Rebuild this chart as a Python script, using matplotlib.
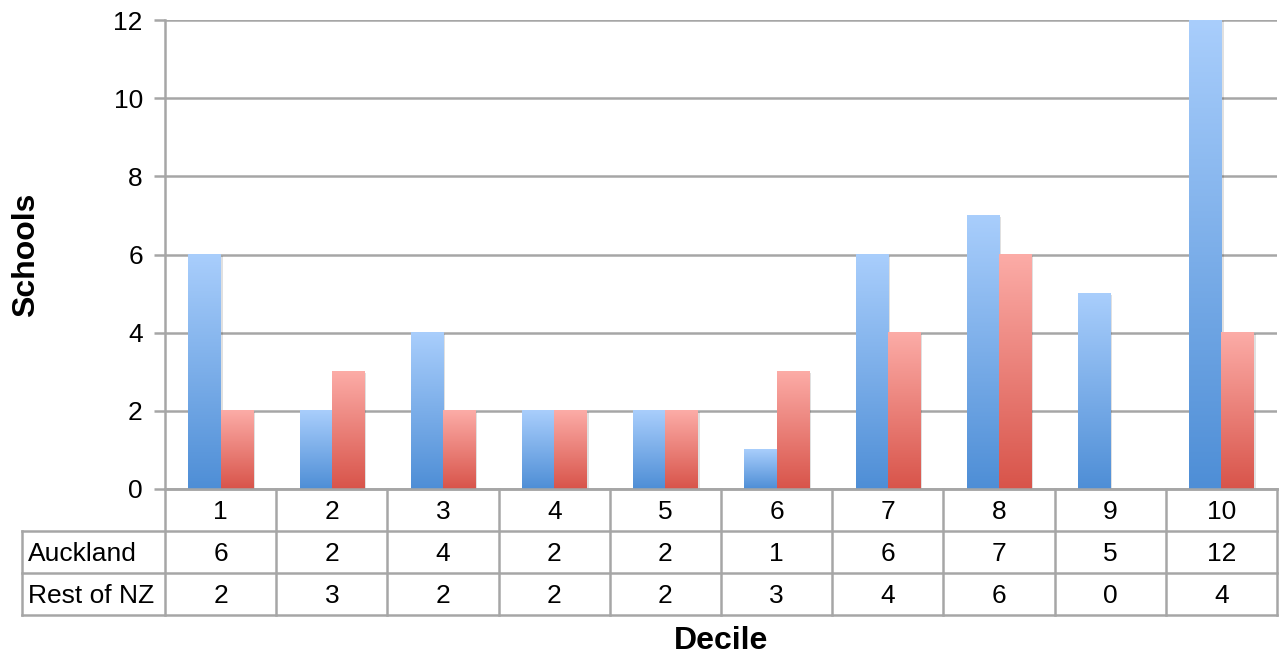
import numpy as np
import matplotlib.pyplot as plt
from matplotlib.colors import LinearSegmentedColormap

deciles = ["1", "2", "3", "4", "5", "6", "7", "8", "9", "10"]
auckland = [6, 2, 4, 2, 2, 1, 6, 7, 5, 12]
rest_nz = [2, 3, 2, 2, 2, 3, 4, 6, 0, 4]
series_names = ["Auckland", "Rest of NZ"]
yticks = [0, 2, 4, 6, 8, 10, 12]

plt.rcParams['font.family'] = ['Liberation Sans', 'DejaVu Sans']
FS = 19
GRID = "#a6a6a6"

W, H = 1280, 657
fig = plt.figure(figsize=(W / 100, H / 100), dpi=100)

left, right, top, bottom = 165, 1277, 20, 489
ax = fig.add_axes([left / W, 1 - bottom / H, (right - left) / W, (bottom - top) / H])

blue = LinearSegmentedColormap.from_list("b", ["#4e8ed6", "#a9cefc"])
red = LinearSegmentedColormap.from_list("r", ["#d8544a", "#fcaca7"])
grad = np.linspace(0, 1, 256).reshape(-1, 1)

bw = 0.29
x = np.arange(len(deciles))
for vals, cmap, off in [(auckland, blue, -bw), (rest_nz, red, 0)]:
    for xi, v in zip(x, vals):
        if v <= 0:
            continue
        x0 = xi + off
        # faint drop shadow
        ax.add_patch(plt.Rectangle((x0 + 0.02, 0), bw, v - 0.03, color="black",
                                   alpha=0.12, lw=0, zorder=2))
        ax.imshow(grad, cmap=cmap, origin="lower", aspect="auto",
                  extent=[x0, x0 + bw, 0, v], zorder=3)

ax.set_xlim(-0.5, len(deciles) - 0.5)
ax.set_ylim(0, 12)
ax.set_yticks(yticks)
ax.set_yticklabels([str(t) for t in yticks], fontsize=FS)
ax.set_xticks([])
ax.yaxis.grid(True, color=GRID, lw=1.8, zorder=1)
ax.set_axisbelow(True)
for s in ["top", "right"]:
    ax.spines[s].set_visible(False)
for s in ["left", "bottom"]:
    ax.spines[s].set_color(GRID)
    ax.spines[s].set_linewidth(1.8)
ax.tick_params(axis="y", length=8, width=1.8, color=GRID, pad=8)

# data table
tleft = 22
unit = (right - left) / len(deciles)
tab_bottom = 615
tax = fig.add_axes([tleft / W, 1 - tab_bottom / H, (right - tleft) / W, (tab_bottom - bottom) / H])
xl = -0.5 - (left - tleft) / unit
tax.set_xlim(xl, len(deciles) - 0.5)
tax.set_ylim(0, 3)
tax.axis("off")

kw = dict(color=GRID, lw=1.8, clip_on=False)
# horizontal lines
tax.plot([-0.5, len(deciles) - 0.5], [3, 3], **kw)
tax.plot([xl, len(deciles) - 0.5], [2, 2], **kw)
tax.plot([xl, len(deciles) - 0.5], [1, 1], **kw)
tax.plot([xl, len(deciles) - 0.5], [0, 0], **kw)
# vertical lines
tax.plot([xl, xl], [0, 2], **kw)
for i in range(len(deciles) + 1):
    tax.plot([i - 0.5, i - 0.5], [0, 3], **kw)

for i, d in enumerate(deciles):
    tax.text(i, 2.45, d, ha="center", va="center", fontsize=FS)
    tax.text(i, 1.45, str(auckland[i]), ha="center", va="center", fontsize=FS)
    tax.text(i, 0.45, str(rest_nz[i]), ha="center", va="center", fontsize=FS)
tax.text(xl + 0.05, 1.45, series_names[0], ha="left", va="center", fontsize=FS)
tax.text(xl + 0.05, 0.45, series_names[1], ha="left", va="center", fontsize=FS)

fig.text(721 / W, 1 - 641 / H, "Decile", ha="center", va="center",
         fontsize=23, fontweight="bold")
fig.text(26 / W, 1 - 255 / H, "Schools", ha="center", va="center",
         fontsize=23, fontweight="bold", rotation=90)

fig.savefig("out.png", dpi=100)
